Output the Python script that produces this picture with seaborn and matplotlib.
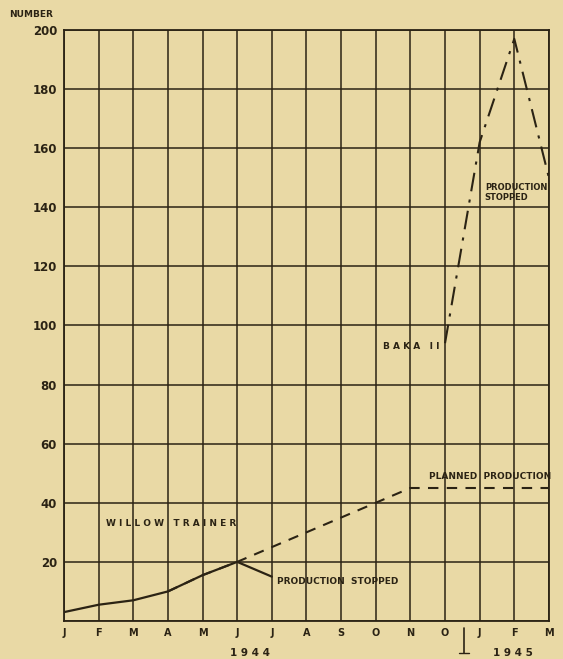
import numpy as np
import pandas as pd
import seaborn as sns
import matplotlib.pyplot as plt

# month labels as printed on the chart (Jan 1944 .. Mar 1945)
months = ['J', 'F', 'M', 'A', 'M', 'J', 'J', 'A', 'S', 'O', 'N', 'O', 'J', 'F', 'M']

# Willow trainer, actual production (Jan-Jul 1944)
willow_idx = [0, 1, 2, 3, 4, 5, 6]
willow_val = [3, 5.5, 7, 10, 15.5, 20, 15]

# planned production (Apr 1944 - Mar 1945)
planned_idx = [3, 4, 5, 6, 7, 8, 9, 10, 11, 12, 13, 14]
planned_val = [10, 15.5, 20, 25, 30, 35, 40, 45, 45, 45, 45, 45]

# Baka II (Dec 1944 - Mar 1945)
baka_idx = [11, 12, 13, 14]
baka_val = [94, 162, 197, 150]

BG = '#e9d9a5'
INK = '#2b2314'

sns.set_style('white', {'axes.facecolor': BG, 'figure.facecolor': BG})
plt.rcParams['font.family'] = ['DejaVu Sans']

fig = plt.figure(figsize=(5.63, 6.59), dpi=100)
ax = fig.add_axes([0.1137, 0.0577, 0.8613, 0.8968])

willow = pd.DataFrame({'x': willow_idx, 'y': willow_val})
planned = pd.DataFrame({'x': planned_idx, 'y': planned_val})
baka = pd.DataFrame({'x': baka_idx, 'y': baka_val})

sns.lineplot(data=planned, x='x', y='y', ax=ax, color=INK, lw=1.5,
             linestyle=(0, (5, 4)))
sns.lineplot(data=willow, x='x', y='y', ax=ax, color=INK, lw=1.6)
sns.lineplot(data=baka, x='x', y='y', ax=ax, color=INK, lw=1.5,
             linestyle=(0, (9, 4, 1.5, 4)))

ax.set_xlim(0, 14)
ax.set_ylim(0, 200)
ax.set_xticks(range(15))
ax.set_xticklabels(months, fontsize=7, fontweight='bold', color=INK)
ax.set_yticks(range(0, 201, 20))
ax.set_yticklabels([''] + [str(v) for v in range(20, 201, 20)],
                   fontsize=8.5, fontweight='bold', color=INK)
ax.tick_params(axis='y', length=3, width=1, color=INK, pad=2)
ax.tick_params(axis='x', length=0, pad=5)
ax.grid(True, color=INK, lw=1.1)
for s in ax.spines.values():
    s.set_color(INK)
    s.set_linewidth(1.3)
ax.set_xlabel('')
ax.set_ylabel('')

tkw = dict(fontsize=6.5, fontweight='bold', color=INK)
fig.text(0.016, 0.978, 'NUMBER', **tkw, va='center')
ax.text(1.2, 33, 'W I L L O W   T R A I N E R', **tkw, va='center')
ax.text(6.15, 13.5, 'PRODUCTION  STOPPED', **tkw, va='center')
ax.text(10.55, 49, 'PLANNED  PRODUCTION', **tkw, va='center', clip_on=False)
ax.text(9.2, 93, 'B A K A   I I', **tkw, va='center')
ax.text(12.15, 145, 'PRODUCTION\nSTOPPED', fontsize=6, fontweight='bold',
        color=INK, va='center', linespacing=1.1)

# year labels and separator below the axis
fig.text(0.408, 0.004, '1 9 4 4', fontsize=7.5, fontweight='bold', color=INK)
fig.text(0.876, 0.004, '1 9 4 5', fontsize=7.5, fontweight='bold', color=INK)
ax.plot([11.55, 11.55], [-2.5, -11], color=INK, lw=1.2, clip_on=False)
ax.plot([11.4, 11.7], [-11, -11], color=INK, lw=1.0, clip_on=False)

fig.savefig('out.png', dpi=100, facecolor=BG)
